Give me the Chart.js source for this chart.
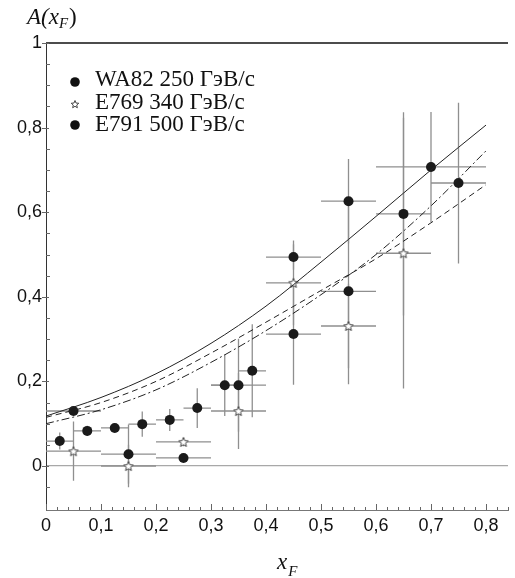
<!DOCTYPE html>
<html>
<head>
<meta charset="utf-8">
<script src="https://cdn.jsdelivr.net/npm/chart.js@4.4.0/dist/chart.umd.min.js"></script>
<style>
    html, body { margin: 0; padding: 0; background: #fff; }
</style>
</head>
<body>
<canvas id="chart" width="515" height="578"></canvas>
<script>
// Model curves
const curveX = [0, 0.1, 0.2, 0.3, 0.4, 0.5, 0.6, 0.7, 0.8];
const solidY = [0.118, 0.162, 0.218, 0.29, 0.378, 0.482, 0.59, 0.70, 0.806];
const dashY = [0.115, 0.15, 0.20, 0.267, 0.34, 0.415, 0.49, 0.575, 0.665];
const dashDotY = [0.10, 0.133, 0.18, 0.245, 0.32, 0.405, 0.50, 0.615, 0.745];

// WA82 250 GeV/c
const wa82X = [0.05, 0.15, 0.25, 0.35, 0.45, 0.55, 0.65, 0.75];
const wa82Y = [0.13, 0.028, 0.019, 0.191, 0.494, 0.626, 0.596, 0.669];
const wa82XErr = [0.05, 0.05, 0.05, 0.05, 0.05, 0.05, 0.05, 0.05];
const wa82YErr = [0.01, 0.07, 0.01, 0.11, 0.03, 0.10, 0.24, 0.19];

// E769 340 GeV/c
const e769X = [0.05, 0.15, 0.25, 0.35, 0.45, 0.55, 0.65];
const e769Y = [0.035, 0.0, 0.057, 0.13, 0.433, 0.331, 0.503];
const e769XErr = [0.05, 0.05, 0.05, 0.05, 0.05, 0.05, 0.05];
const e769YErr = [0.07, 0.05, 0.01, 0.09, 0.10, 0.10, 0.32];

// E791 500 GeV/c
const e791X = [0.025, 0.075, 0.125, 0.175, 0.225, 0.275, 0.325, 0.375, 0.45, 0.55, 0.70];
const e791Y = [0.059, 0.083, 0.09, 0.099, 0.109, 0.137, 0.191, 0.225, 0.312, 0.413, 0.707];
const e791XErr = [0.025, 0.025, 0.025, 0.025, 0.025, 0.025, 0.025, 0.025, 0.05, 0.05, 0.10];
const e791YErr = [0.02, 0.012, 0.01, 0.03, 0.026, 0.047, 0.073, 0.11, 0.12, 0.22, 0.13];

const legendLabels = ['WA82 250 ГэВ/с', 'E769 340 ГэВ/с', 'E791 500 ГэВ/с'];

const SERIF = '"Liberation Serif", "Times New Roman", "DejaVu Serif", serif';
const SANS = '"Liberation Sans", Arial, sans-serif';

function toPoints(xs, ys) {
    return xs.map((x, i) => ({ x: x, y: ys[i] }));
}

// open five-point star used as marker
function makeStar(size) {
    const c = document.createElement('canvas');
    c.width = size;
    c.height = size;
    const g = c.getContext('2d');
    const cx = size / 2, cy = size / 2 + 0.5;
    const r = size / 2 - 1, r2 = r * 0.45;
    g.beginPath();
    for (let k = 0; k < 10; k++) {
        const rr = k % 2 ? r2 : r;
        const a = -Math.PI / 2 + k * Math.PI / 5;
        g.lineTo(cx + rr * Math.cos(a), cy + rr * Math.sin(a));
    }
    g.closePath();
    g.fillStyle = '#fff';
    g.fill();
    g.strokeStyle = '#444';
    g.lineWidth = 1;
    g.stroke();
    return c;
}
const starImg = makeStar(12);
const starSmall = makeStar(10);

function isStep(v, step) {
    const q = v / step;
    return Math.abs(q - Math.round(q)) < 1e-6;
}

function fmt(v) {
    const r = Math.round(v * 10) / 10;
    return String(r).replace('.', ',');
}

const curveStyle = {
    showLine: true,
    pointRadius: 0,
    borderColor: '#222',
    borderWidth: 1,
    cubicInterpolationMode: 'monotone',
    fill: false
};

const pointStyle = {
    pointRadius: 5,
    pointHoverRadius: 5,
    backgroundColor: '#1a1a1a',
    borderColor: '#1a1a1a',
    borderWidth: 0
};

// horizontal and vertical error bars, drawn under the markers
const errorBars = {
    id: 'errorBars',
    beforeDatasetsDraw(chart) {
        const { ctx, scales: { x, y } } = chart;
        ctx.save();
        ctx.strokeStyle = '#8f8f8f';
        ctx.lineWidth = 1.3;
        chart.data.datasets.forEach(ds => {
            if (!ds.xErr) return;
            ds.data.forEach((p, i) => {
                const px = x.getPixelForValue(p.x);
                const py = y.getPixelForValue(p.y);
                ctx.beginPath();
                ctx.moveTo(x.getPixelForValue(p.x - ds.xErr[i]), py);
                ctx.lineTo(x.getPixelForValue(p.x + ds.xErr[i]), py);
                ctx.moveTo(px, y.getPixelForValue(p.y - ds.yErr[i]));
                ctx.lineTo(px, y.getPixelForValue(p.y + ds.yErr[i]));
                ctx.stroke();
            });
        });
        ctx.restore();
    }
};

// tick marks, frame, legend and axis titles
const decorations = {
    id: 'decorations',
    afterDatasetsDraw(chart) {
        const { ctx, chartArea: a, scales: { x, y } } = chart;
        ctx.save();

        // top frame line
        ctx.strokeStyle = '#111';
        ctx.lineWidth = 1.5;
        ctx.beginPath();
        ctx.moveTo(a.left, a.top);
        ctx.lineTo(a.right, a.top);
        ctx.stroke();

        // x ticks point up into the plot
        ctx.strokeStyle = '#666';
        ctx.lineWidth = 1;
        ctx.beginPath();
        x.ticks.forEach(t => {
            if (!isStep(t.value, 0.02)) return;
            const px = Math.round(x.getPixelForValue(t.value)) + 0.5;
            const len = isStep(t.value, 0.1) ? 6 : 3;
            ctx.moveTo(px, a.bottom);
            ctx.lineTo(px, a.bottom - len);
        });
        // y ticks: minor inside, major outside
        y.ticks.forEach(t => {
            if (!isStep(t.value, 0.05)) return;
            const py = Math.round(y.getPixelForValue(t.value)) + 0.5;
            if (isStep(t.value, 0.2)) {
                ctx.moveTo(a.left - 4, py);
                ctx.lineTo(a.left + 3, py);
            } else {
                ctx.moveTo(a.left, py);
                ctx.lineTo(a.left + 4, py);
            }
        });
        ctx.stroke();

        // legend
        ctx.fillStyle = '#111';
        ctx.font = '23px ' + SERIF;
        ctx.textBaseline = 'alphabetic';
        const mx = a.left + 29;
        const tx = a.left + 49;
        const rows = [39, 61, 82];
        const bases = [43, 66, 88];
        legendLabels.forEach((label, i) => {
            const my = a.top + rows[i];
            if (i === 1) {
                ctx.drawImage(starSmall, mx - 5, my - 5);
            } else {
                ctx.beginPath();
                ctx.arc(mx, my, 4.8, 0, Math.PI * 2);
                ctx.fill();
            }
            ctx.fillText(label, tx, a.top + bases[i]);
        });

        // y title A(x_F)
        ctx.font = 'italic 23px ' + SERIF;
        let cx = 27;
        const yb = a.top - 19;
        ctx.fillText('A(x', cx, yb);
        cx += ctx.measureText('A(x').width;
        ctx.font = 'italic 15px ' + SERIF;
        ctx.fillText('F', cx, yb + 4);
        cx += ctx.measureText('F').width + 1;
        ctx.font = '23px ' + SERIF;
        ctx.fillText(')', cx, yb);

        // x title x_F
        ctx.font = 'italic 23px ' + SERIF;
        const xw = ctx.measureText('x').width;
        const xc = (a.left + a.right) / 2 + 10;
        ctx.fillText('x', xc - 10, chart.height - 9);
        ctx.font = 'italic 15px ' + SERIF;
        ctx.fillText('F', xc - 10 + xw + 1, chart.height - 2);

        ctx.restore();
    }
};

function buildChart() {
    const ctx = document.getElementById('chart').getContext('2d');
    return new Chart(ctx, {
        type: 'scatter',
        data: {
            datasets: [
                Object.assign({ label: 'solid', data: toPoints(curveX, solidY) }, curveStyle),
                Object.assign({ label: 'dash', data: toPoints(curveX, dashY), borderDash: [6, 4] }, curveStyle),
                Object.assign({ label: 'dashdot', data: toPoints(curveX, dashDotY), borderDash: [8, 3, 2, 3] }, curveStyle),
                Object.assign({ label: legendLabels[0], data: toPoints(wa82X, wa82Y), xErr: wa82XErr, yErr: wa82YErr }, pointStyle),
                {
                    label: legendLabels[1],
                    data: toPoints(e769X, e769Y),
                    xErr: e769XErr,
                    yErr: e769YErr,
                    pointStyle: starImg,
                    pointRadius: 6
                },
                Object.assign({ label: legendLabels[2], data: toPoints(e791X, e791Y), xErr: e791XErr, yErr: e791YErr }, pointStyle)
            ]
        },
        options: {
            responsive: false,
            devicePixelRatio: 1,
            animation: false,
            layout: { padding: { top: 43, left: 0, right: 0, bottom: 0 } },
            plugins: {
                legend: { display: false },
                tooltip: { enabled: false }
            },
            scales: {
                x: {
                    type: 'linear',
                    min: 0,
                    max: 0.84,
                    afterFit(scale) { scale.height = 68; },
                    border: { display: true, color: '#777', width: 1 },
                    grid: { display: false, drawTicks: false, tickLength: 0 },
                    ticks: {
                        stepSize: 0.02,
                        autoSkip: false,
                        maxRotation: 0,
                        padding: 5,
                        color: '#111',
                        font: { family: SANS, size: 18 },
                        callback: v => isStep(v, 0.1) && v < 0.81 ? fmt(v) : ''
                    }
                },
                y: {
                    type: 'linear',
                    min: -0.104,
                    max: 1,
                    afterFit(scale) { scale.width = 46; },
                    border: { display: true, color: '#333', width: 1 },
                    grid: {
                        drawTicks: false,
                        tickLength: 0,
                        color: c => Math.abs(c.tick.value) < 1e-9 ? '#a8a8a8' : 'rgba(0,0,0,0)',
                        lineWidth: 1.2
                    },
                    ticks: {
                        stepSize: 0.05,
                        autoSkip: false,
                        padding: 4,
                        color: '#111',
                        font: { family: SANS, size: 18 },
                        callback: v => v >= -1e-9 && isStep(v, 0.2) ? fmt(v) : ''
                    }
                }
            }
        },
        plugins: [errorBars, decorations]
    });
}

// make sure the installed fonts are ready before drawing on canvas
Promise.all([
    document.fonts.load('23px "Liberation Serif"', 'WA82 ГэВ/с'),
    document.fonts.load('italic 23px "Liberation Serif"', 'Ax'),
    document.fonts.load('18px "Liberation Sans"', '0,8')
]).catch(() => {}).then(buildChart);
</script>
</body>
</html>
